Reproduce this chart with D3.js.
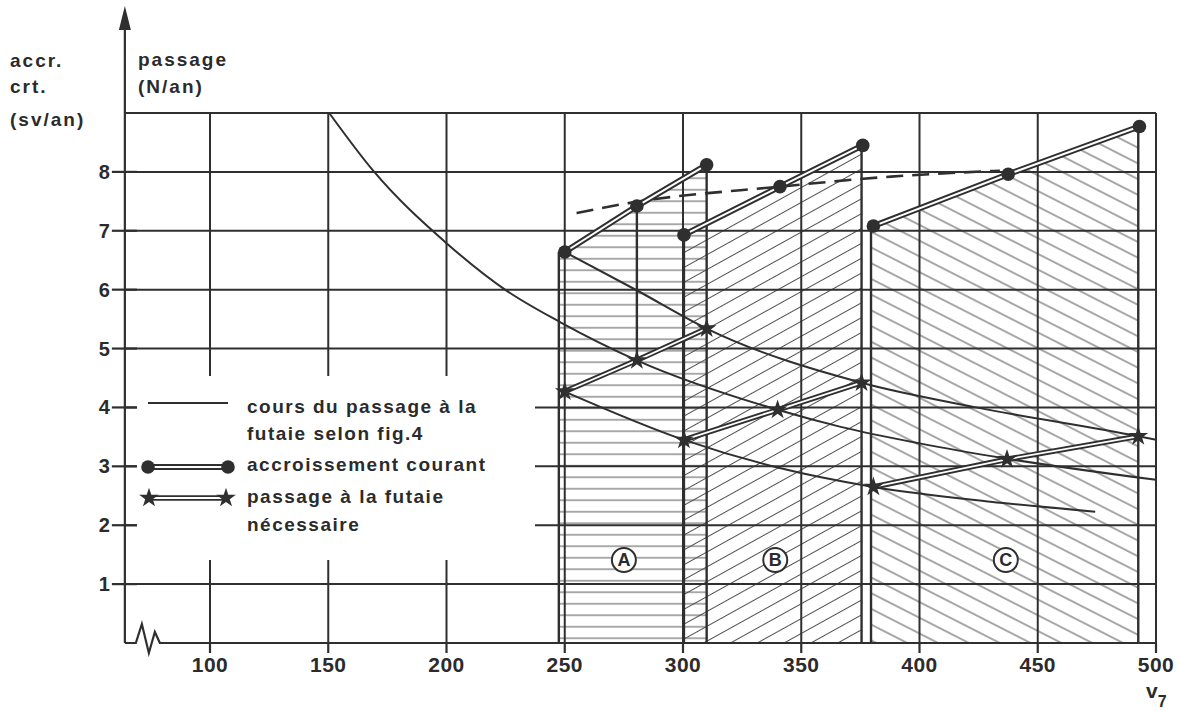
<!DOCTYPE html>
<html>
<head>
<meta charset="utf-8">
<script src="https://cdn.jsdelivr.net/npm/d3@7"></script>
<style>
  html, body { margin: 0; padding: 0; background: #fff; }
  svg { display: block; }
  text { font-family: "Liberation Sans", Arial, Helvetica, sans-serif; font-weight: bold; fill: #2b2b2b; }
</style>
</head>
<body>
<script>
// ---- data -------------------------------------------------------------
const xTicks = [100, 150, 200, 250, 300, 350, 400, 450, 500];
const yTicks = [1, 2, 3, 4, 5, 6, 7, 8];
const yTop = 9;
const xStart = 64;

// accroissement courant (sv/an) for the three stands
const accrA = [[250, 6.64], [280.5, 7.42], [310, 8.12]];
const accrB = [[300.4, 6.93], [341, 7.75], [376, 8.45]];
const accrC = [[380.5, 7.08], [437.5, 7.96], [493, 8.77]];

// passage à la futaie nécessaire (N/an)
const passA = [[250, 4.27], [280.5, 4.80], [310, 5.34]];
const passB = [[300.4, 3.45], [340, 3.96], [375.5, 4.42]];
const passC = [[380.5, 2.65], [437, 3.12], [492.5, 3.51]];

// cours du passage à la futaie selon fig. 4
const coursMain = [[150.4, 9.0], [169, 8.02], [200, 6.79], [225.5, 5.98], [248, 5.45],
                   [280.5, 4.80], [340, 3.96], [366.7, 3.67], [400, 3.39], [437, 3.13], [500, 2.77]];
const coursUpper = [[250, 6.64], [280.4, 5.99], [310, 5.34], [375.5, 4.42], [422.8, 4.01],
                    [492.5, 3.51], [500, 3.45]];
const coursLower = [[250, 4.27], [300.4, 3.45], [340, 2.98], [380.5, 2.65], [430, 2.40], [474.3, 2.23]];

// dashed trend of the accroissement
const accrTrend = [[255, 7.30], [277, 7.47], [341, 7.75], [388, 7.92], [434, 8.02]];

// horizontal extent of the hatched stands
const spanA = [247.5, 310];
const spanB = [300.4, 375.5];
const spanC = [379.5, 492.5];
const standNames = ["A", "B", "C"];
const standLabelX = [275, 339, 436.5];
const standLabelY = 1.41;

const legendLabels = [
  ["cours du passage à la", "futaie selon fig.4"],
  ["accroissement courant"],
  ["passage à la futaie", "nécessaire"]
];

// ---- layout -----------------------------------------------------------
const W = 1181, H = 711;
const ink = "#2f2f2f";
const x = d3.scaleLinear().domain([100, 500]).range([210, 1156]);
const y = d3.scaleLinear().domain([0, 9]).range([643, 113]);

const svg = d3.select("body").append("svg").attr("width", W).attr("height", H);
const defs = svg.append("defs");

function hatch(id, angle, gap) {
  const p = defs.append("pattern").attr("id", id)
    .attr("patternUnits", "userSpaceOnUse")
    .attr("width", 40).attr("height", gap)
    .attr("patternTransform", `rotate(${angle})`);
  p.append("line").attr("x1", 0).attr("x2", 40).attr("y1", gap / 2).attr("y2", gap / 2)
    .attr("stroke", "#505050").attr("stroke-width", 1);
}
hatch("hatchA", 0, 11.5);
hatch("hatchB", -29, 13);
hatch("hatchC", 27, 14);

const line = d3.line().x(d => x(d[0])).y(d => y(d[1]));
const smooth = d3.line().x(d => x(d[0])).y(d => y(d[1])).curve(d3.curveMonotoneX);

// ---- hatched stands ---------------------------------------------------
function standPoly(span, pts) {
  const first = pts[0], last = pts[pts.length - 1];
  return [[span[0], 0], [span[0], first[1]], ...pts, [span[1], last[1]], [span[1], 0]];
}
[[spanA, accrA, "hatchA"], [spanB, accrB, "hatchB"], [spanC, accrC, "hatchC"]].forEach(([span, pts, pat]) => {
  svg.append("path").attr("d", line(standPoly(span, pts)) + "Z")
    .attr("fill", `url(#${pat})`).attr("stroke", "none");
});

// ---- grid --------------------------------------------------------------
const grid = svg.append("g").attr("stroke", ink).attr("stroke-width", 2).attr("fill", "none");
yTicks.concat([yTop]).forEach(v => {
  grid.append("line").attr("x1", x(xStart)).attr("x2", x(500)).attr("y1", y(v)).attr("y2", y(v));
});
xTicks.forEach(v => {
  grid.append("line").attr("x1", x(v)).attr("x2", x(v)).attr("y1", y(0)).attr("y2", y(yTop));
});

// blank panel behind the legend
svg.append("rect").attr("x", 137).attr("y", 376).attr("width", 398).attr("height", 184)
  .attr("fill", "#fff");

// stand boundaries
const edges = svg.append("g").attr("stroke", ink).attr("stroke-width", 2.4);
[[spanA, accrA], [spanB, accrB], [spanC, accrC]].forEach(([span, pts]) => {
  edges.append("line").attr("x1", x(span[0])).attr("x2", x(span[0]))
    .attr("y1", y(0)).attr("y2", y(pts[0][1]));
  edges.append("line").attr("x1", x(span[1])).attr("x2", x(span[1]))
    .attr("y1", y(0)).attr("y2", y(pts[pts.length - 1][1]));
});
// link between mid points of stand A
edges.append("line").attr("x1", x(accrA[1][0])).attr("x2", x(passA[1][0]))
  .attr("y1", y(accrA[1][1])).attr("y2", y(passA[1][1]));

// ---- axes --------------------------------------------------------------
const axis = svg.append("g").attr("stroke", ink).attr("stroke-width", 2.2).attr("fill", "none");
const x0 = x(xStart);
axis.append("line").attr("x1", x0).attr("x2", x0).attr("y1", y(0)).attr("y2", 22);
svg.append("path").attr("d", `M${x0},6 L${x0 - 6},30 L${x0 + 6},30 Z`).attr("fill", ink);
// x axis with a break mark
axis.append("path").attr("d",
  `M${x0},${y(0)} L${x0 + 11},${y(0)} L${x0 + 17},${y(0) - 19} L${x0 + 24},${y(0) + 10}` +
  ` L${x0 + 30},${y(0) - 11} L${x0 + 35},${y(0)} L${x(500)},${y(0)}`);
yTicks.forEach(v => {
  axis.append("line").attr("x1", x0 - 13).attr("x2", x0 + 12).attr("y1", y(v)).attr("y2", y(v));
  svg.append("text").attr("x", x0 - 15).attr("y", y(v) + 7).attr("text-anchor", "end")
    .attr("font-size", 20).text(v);
});
xTicks.forEach(v => {
  axis.append("line").attr("x1", x(v)).attr("x2", x(v)).attr("y1", y(0)).attr("y2", y(0) + 10);
  svg.append("text").attr("x", x(v)).attr("y", 672).attr("text-anchor", "middle")
    .attr("font-size", 21).attr("letter-spacing", 0.5).text(v);
});
const vlab = svg.append("text").attr("x", 1146).attr("y", 698).attr("font-size", 21);
vlab.append("tspan").text("v");
vlab.append("tspan").attr("dy", 9).attr("font-size", 16).text("7");

// axis titles
[["accr.", 10, 67], ["crt.", 10, 93], ["(sv/an)", 10, 126], ["passage", 138, 66], ["(N/an)", 138, 93]]
  .forEach(([t, tx, ty]) => {
    svg.append("text").attr("x", tx).attr("y", ty).attr("font-size", 19)
      .attr("letter-spacing", 2).text(t);
  });

// ---- curves -------------------------------------------------------------
const curves = svg.append("g").attr("fill", "none").attr("stroke", ink).attr("stroke-width", 2);
[coursMain, coursUpper, coursLower].forEach(c => curves.append("path").attr("d", smooth(c)));
curves.append("path").attr("d", smooth(accrTrend)).attr("stroke-width", 2.6)
  .attr("stroke-dasharray", "17,9");

// ---- double lines with markers ------------------------------------------
function doubleLine(pts, outer, inner) {
  svg.append("path").attr("d", line(pts)).attr("fill", "none")
    .attr("stroke", ink).attr("stroke-width", outer).attr("stroke-linecap", "round");
  svg.append("path").attr("d", line(pts)).attr("fill", "none")
    .attr("stroke", "#fff").attr("stroke-width", inner);
}
const star = d3.symbol().type(d3.symbolStar).size(120);

[accrA, accrB, accrC].forEach(pts => {
  doubleLine(pts, 6, 2);
  svg.append("g").selectAll("circle").data(pts).join("circle")
    .attr("cx", d => x(d[0])).attr("cy", d => y(d[1])).attr("r", 6.8).attr("fill", ink);
});
[passA, passB, passC].forEach(pts => {
  doubleLine(pts, 5.5, 1.8);
  svg.append("g").selectAll("path.st").data(pts).join("path")
    .attr("d", star).attr("transform", d => `translate(${x(d[0])},${y(d[1])})`).attr("fill", ink);
});

// ---- stand labels -------------------------------------------------------
standNames.forEach((n, i) => {
  const cx = x(standLabelX[i]), cy = y(standLabelY);
  svg.append("circle").attr("cx", cx).attr("cy", cy).attr("r", 12)
    .attr("fill", "#fff").attr("stroke", ink).attr("stroke-width", 2);
  svg.append("text").attr("x", cx).attr("y", cy + 6.5).attr("text-anchor", "middle")
    .attr("font-size", 18).text(n);
});

// ---- legend -------------------------------------------------------------
const lg = svg.append("g");
lg.append("line").attr("x1", 148).attr("x2", 228).attr("y1", 403).attr("y2", 403)
  .attr("stroke", ink).attr("stroke-width", 2.2);
lg.append("line").attr("x1", 148).attr("x2", 228).attr("y1", 467).attr("y2", 467)
  .attr("stroke", ink).attr("stroke-width", 6);
lg.append("line").attr("x1", 148).attr("x2", 228).attr("y1", 467).attr("y2", 467)
  .attr("stroke", "#fff").attr("stroke-width", 2);
[148, 228].forEach(cx => lg.append("circle").attr("cx", cx).attr("cy", 467).attr("r", 6.8).attr("fill", ink));
lg.append("line").attr("x1", 149).attr("x2", 226).attr("y1", 498).attr("y2", 498)
  .attr("stroke", ink).attr("stroke-width", 5.5);
lg.append("line").attr("x1", 149).attr("x2", 226).attr("y1", 498).attr("y2", 498)
  .attr("stroke", "#fff").attr("stroke-width", 1.8);
[149, 226].forEach(cx => lg.append("path").attr("d", star)
  .attr("transform", `translate(${cx},498)`).attr("fill", ink));

const legendBase = [[413, 440], [471], [503, 531]];
legendLabels.forEach((lines, i) => {
  lines.forEach((t, j) => {
    lg.append("text").attr("x", 247).attr("y", legendBase[i][j]).attr("font-size", 19)
      .attr("letter-spacing", 1.5).text(t);
  });
});
</script>
</body>
</html>
